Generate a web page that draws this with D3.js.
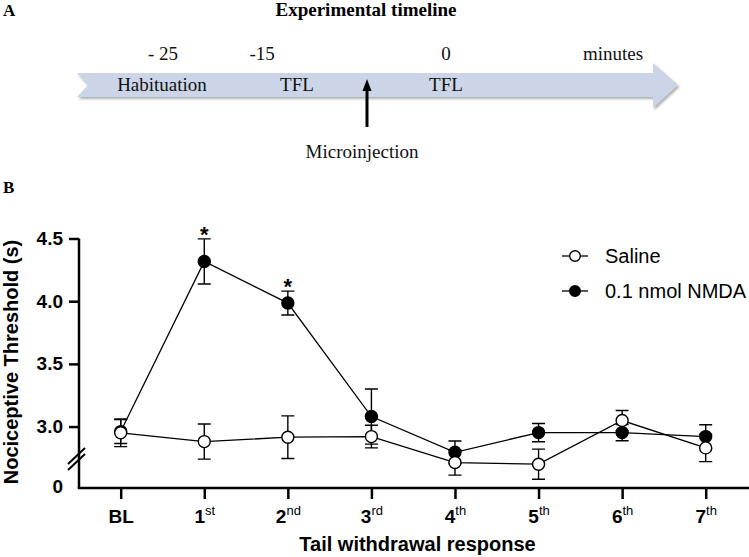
<!DOCTYPE html>
<html>
<head>
<meta charset="utf-8">
<script src="https://cdn.jsdelivr.net/npm/d3@7"></script>
<style>
  html, body { margin: 0; padding: 0; background: #fff; }
  svg { display: block; }
</style>
</head>
<body>
<svg id="chart" width="749" height="557"></svg>
<script>
// ---------- Data ----------
const categories = ["BL", "1st", "2nd", "3rd", "4th", "5th", "6th", "7th"];
const catMain = ["BL", "1", "2", "3", "4", "5", "6", "7"];
const catSup = ["", "st", "nd", "rd", "th", "th", "th", "th"];

const salineMean = [2.95, 2.88, 2.915, 2.92, 2.713, 2.70, 3.048, 2.83];
const salineSem  = [0.11, 0.14, 0.17, 0.09, 0.10, 0.12, 0.08, 0.11];
const nmdaMean   = [2.96, 4.317, 3.985, 3.08, 2.795, 2.952, 2.952, 2.92];
const nmdaSem    = [0.095, 0.18, 0.095, 0.22, 0.09, 0.073, 0.065, 0.095];
const nmdaSig    = ["", "*", "*", "", "", "", "", ""];

const yTickValues = [3.0, 3.5, 4.0, 4.5];
const yBreakLabel = "0";
const legendLabels = ["Saline", "0.1 nmol NMDA"];

// Timeline (panel A)
const timeLabels = ["- 25", "-15", "0", "minutes"];
const phaseLabels = ["Habituation", "TFL", "TFL"];

// ---------- Setup ----------
const svg = d3.select("#chart");
const serif = "'Liberation Serif', 'Times New Roman', serif";
const sans = "'Liberation Sans', Arial, sans-serif";

// ---------- Panel A ----------
const defs = svg.append("defs");
const f = defs.append("filter").attr("id", "shadow").attr("x", "-5%").attr("y", "-30%").attr("width", "110%").attr("height", "170%");
f.append("feDropShadow").attr("dx", 1.5).attr("dy", 2).attr("stdDeviation", 1.2)
  .attr("flood-color", "#7a7a7a").attr("flood-opacity", 0.6);

svg.append("text").attr("x", 3).attr("y", 16)
  .attr("font-family", serif).attr("font-weight", "bold").attr("font-size", 17).text("A");
svg.append("text").attr("x", 366).attr("y", 16).attr("text-anchor", "middle")
  .attr("font-family", serif).attr("font-weight", "bold").attr("font-size", 19).text("Experimental timeline");

// timeline scale: minutes → px
const tScale = d3.scaleLinear().domain([-25, 0]).range([163, 446]);
const timeX = [tScale(-25), tScale(-15) - 14, tScale(0), 613];

const arrowL = 77, arrowR = 678, shaftT = 73, shaftB = 97, headX = 653, headT = 63, headB = 108;
const midY = (shaftT + shaftB) / 2;
svg.append("polygon")
  .attr("points", [[arrowL, shaftT], [headX, shaftT], [headX, headT], [arrowR, midY], [headX, headB], [headX, shaftB], [arrowL, shaftB], [arrowL + 11, midY]].map(p => p.join(",")).join(" "))
  .attr("fill", "#cbd5e7").attr("filter", "url(#shadow)");

svg.selectAll("text.tl").data(timeLabels).join("text").attr("class", "tl")
  .attr("x", (d, i) => timeX[i]).attr("y", 60).attr("text-anchor", "middle")
  .attr("font-family", serif).attr("font-size", 19).attr("fill", "#111").text(d => d);

const phaseX = [162, 297, 446];
svg.selectAll("text.ph").data(phaseLabels).join("text").attr("class", "ph")
  .attr("x", (d, i) => phaseX[i]).attr("y", 91).attr("text-anchor", "middle")
  .attr("font-family", serif).attr("font-size", 19).attr("fill", "#111").text(d => d);

// microinjection arrow
svg.append("line").attr("x1", 367).attr("x2", 367).attr("y1", 127).attr("y2", 88)
  .attr("stroke", "#000").attr("stroke-width", 3);
svg.append("polygon").attr("points", "367,79 362.5,91 371.5,91").attr("fill", "#000");
svg.append("text").attr("x", 362).attr("y", 158).attr("text-anchor", "middle")
  .attr("font-family", serif).attr("font-size", 19).attr("fill", "#111").text("Microinjection");

// ---------- Panel B ----------
svg.append("text").attr("x", 3).attr("y", 193)
  .attr("font-family", serif).attr("font-weight", "bold").attr("font-size", 17).text("B");

const axisX = 79, axisY = 488, rightEnd = 749;
const x = d3.scalePoint().domain(categories).range([120.7, 705.7]);
const y = d3.scaleLinear().domain([2.51, 4.5]).range([axisY, 238.5]);

const g = svg.append("g");

// Y axis
const yAxis = d3.axisLeft(y).tickValues(yTickValues).tickSize(10).tickPadding(6)
  .tickFormat(d3.format(".1f")).tickSizeOuter(0);
const yg = g.append("g").attr("transform", `translate(${axisX},0)`).call(yAxis);
yg.select(".domain").attr("stroke-width", 2.5).attr("d", `M0,${y(4.5)}V${axisY}`);
yg.selectAll(".tick line").attr("stroke-width", 2.5);
yg.selectAll(".tick text").attr("font-family", sans).attr("font-weight", "bold").attr("font-size", 19).attr("fill", "#000");
// broken-axis "0" label
yg.append("text").attr("x", -16).attr("y", y(2.52)).attr("dy", "0.32em").attr("text-anchor", "end")
  .attr("font-family", sans).attr("font-weight", "bold").attr("font-size", 19).attr("fill", "#000").text(yBreakLabel);
// break marks
[0, 6].forEach(off => {
  yg.append("line").attr("x1", -11).attr("y1", 470 + off - 6).attr("x2", 6).attr("y2", 454 + off - 6)
    .attr("stroke", "#000").attr("stroke-width", 2);
});

// X axis
const xAxis = d3.axisBottom(x).tickSize(11).tickFormat("").tickSizeOuter(0);
const xg = g.append("g").attr("transform", `translate(0,${axisY})`).call(xAxis);
xg.select(".domain").attr("d", `M${axisX - 1.25},0H${rightEnd}`).attr("stroke-width", 2.5);
xg.selectAll(".tick line").attr("stroke-width", 2.5);
xg.selectAll(".tick").append("text").attr("y", 35).attr("text-anchor", "middle")
  .attr("fill", "#000").attr("font-family", sans)
  .each(function(d, i) {
    const t = d3.select(this);
    t.append("tspan").attr("font-weight", "bold").attr("font-size", 19).text(catMain[i]);
    if (catSup[i]) t.append("tspan").attr("font-size", 13).attr("dy", -8).text(catSup[i]);
  });

// Axis titles
svg.append("text").attr("transform", "translate(18,362) rotate(-90)").attr("text-anchor", "middle")
  .attr("font-family", sans).attr("font-weight", "bold").attr("font-size", 20).text("Nociceptive Threshold (s)");
svg.append("text").attr("x", 417.5).attr("y", 551).attr("text-anchor", "middle")
  .attr("font-family", sans).attr("font-weight", "bold").attr("font-size", 20).text("Tail withdrawal response");

// Series
const series = [
  { name: legendLabels[1], mean: nmdaMean, sem: nmdaSem, fill: "#000" },
  { name: legendLabels[0], mean: salineMean, sem: salineSem, fill: "#fff" }
];
const capW = 6.5, r = 6;
const line = d3.line().x((d, i) => x(categories[i])).y(d => y(d));

series.forEach(s => {
  const sg = g.append("g");
  s.mean.forEach((m, i) => {
    const cx = x(categories[i]);
    const top = y(m + s.sem[i]), bot = y(m - s.sem[i]);
    sg.append("path")
      .attr("d", `M${cx},${top}V${bot}M${cx - capW},${top}H${cx + capW}M${cx - capW},${bot}H${cx + capW}`)
      .attr("stroke", "#000").attr("stroke-width", 1.4).attr("fill", "none");
  });
  sg.append("path").attr("d", line(s.mean)).attr("fill", "none").attr("stroke", "#000").attr("stroke-width", 1.3);
  sg.selectAll("circle").data(s.mean).join("circle")
    .attr("cx", (d, i) => x(categories[i])).attr("cy", d => y(d)).attr("r", r)
    .attr("fill", s.fill).attr("stroke", "#000").attr("stroke-width", 1.4);
});

// significance asterisks
g.selectAll("text.sig").data(nmdaSig).join("text").attr("class", "sig")
  .attr("x", (d, i) => x(categories[i])).attr("y", (d, i) => y(nmdaMean[i] + nmdaSem[i]) + 3)
  .attr("text-anchor", "middle").attr("font-family", sans).attr("font-weight", "bold").attr("font-size", 22)
  .text(d => d);

// Legend
const legend = svg.append("g");
const legY = [256, 291];
[series[1], series[0]].forEach((s, i) => {
  const lg = legend.append("g").attr("transform", `translate(575,${legY[i]})`);
  lg.append("line").attr("x1", -13).attr("x2", 13).attr("stroke", "#000").attr("stroke-width", 1.3);
  lg.append("circle").attr("r", 5.3).attr("fill", s.fill).attr("stroke", "#000").attr("stroke-width", 1.4);
  lg.append("text").attr("x", 30).attr("y", 7).attr("font-family", sans).attr("font-size", 20).text(s.name);
});
</script>
</body>
</html>
